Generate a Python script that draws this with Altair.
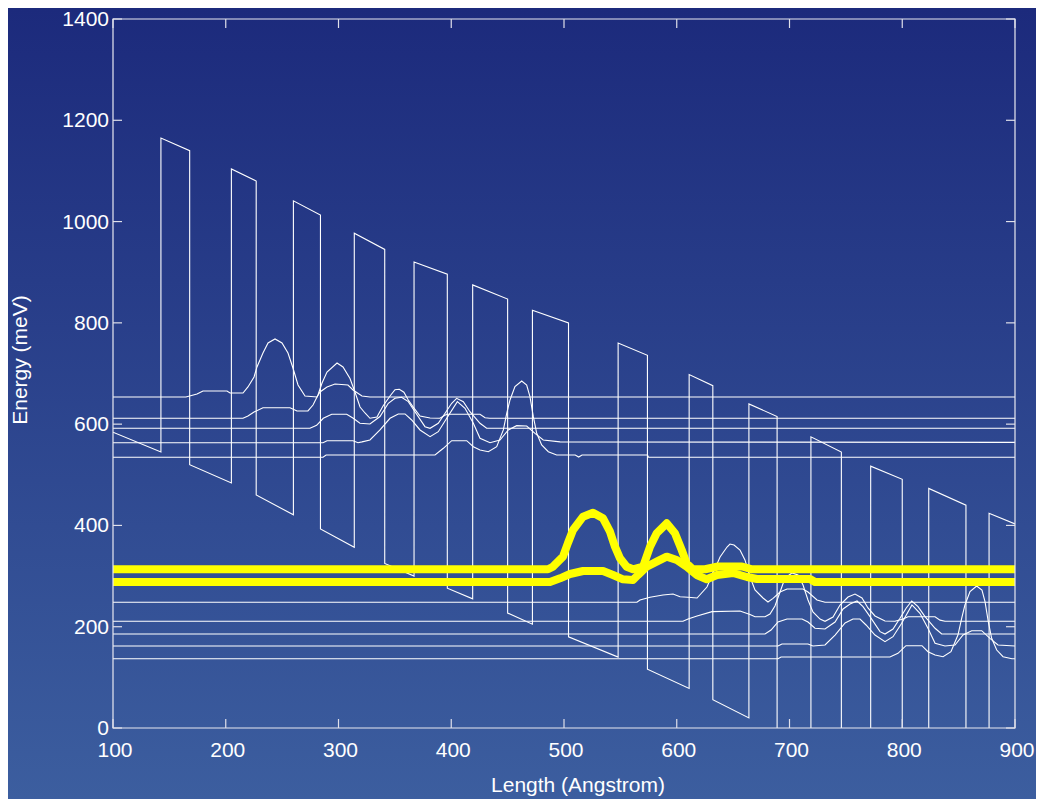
import altair as alt
import pandas as pd

X_TICKS = [100, 200, 300, 400, 500, 600, 700, 800, 900]
Y_TICKS = [0, 200, 400, 600, 800, 1000, 1200, 1400]
X_TITLE = "Length (Angstrom)"
Y_TITLE = "Energy (meV)"

# conduction band profile (Length in Angstrom, Energy in meV)
POTENTIAL = [(100, 584), (142.5, 545), (142.5, 1165), (168, 1140), (168, 520), (205, 484), (205, 1104),
             (227, 1080), (227, 460), (260, 421), (260, 1041), (284, 1013), (284, 393), (314, 357),
             (314, 977), (341, 945), (341, 325), (367, 300), (367, 920), (396.5, 896), (396.5, 276),
             (419, 255), (419, 875), (450, 847), (450, 227), (472, 205), (472, 825), (504, 800),
             (504, 180), (548, 140), (548, 760), (574, 736), (574, 116), (611, 78), (611, 698),
             (632, 676), (632, 56), (664, 20), (664, 640), (689, 615), (689, -5), (719, -45),
             (719, 575), (746, 545), (746, -75), (772, -103), (772, 517), (800, 491), (800, -129),
             (823.5, -147), (823.5, 473), (856.5, 440), (856.5, -180), (877, -196), (877, 424), (900, 403)]

U1 = [(100, 653.6), (164.7, 653.6), (174.5, 659.6), (179.8, 665.5), (201.1, 665.5), (203.8, 661.5),
      (215.3, 661.5), (219.7, 673.4), (225.1, 693.1), (227.7, 712.9), (233, 740.5), (237.5, 760.3),
      (243.7, 768.2), (249.9, 760.3), (255.2, 740.5), (259.6, 710.9), (264.1, 677.3), (270.3, 655.6),
      (280.9, 653.6), (283.6, 663.5), (289.8, 673.4), (296.9, 679.3), (308.4, 677.3), (312.9, 667.5),
      (320.8, 655.6), (327.9, 653.6), (900, 653.6)]
U2 = [(100, 611.6), (215.3, 611.6), (219.7, 616), (225.1, 624), (233, 632.5), (257, 632.5), (263.2, 626),
      (272.9, 626), (277.4, 637.8), (281.8, 657.6), (285.4, 681.3), (289.8, 703), (298.7, 720.8),
      (304, 712.9), (310.2, 690), (314.6, 663.5), (319.1, 633.9), (323.5, 622), (327.9, 611.6),
      (334.1, 614), (339.5, 635.8), (345.7, 655.6), (350.1, 668), (353.9, 669), (358, 663),
      (361.9, 647.7), (366.3, 633.5), (372.3, 616.1), (381.2, 612), (389.9, 611.6), (395.9, 619.5),
      (425.5, 619.5), (430, 612.6), (434, 611.6), (900, 611.6)]
U3 = [(100, 591.8), (274.7, 591.8), (280.6, 597.6), (286.5, 611.6), (294, 619.5), (307.3, 619.5),
      (313.1, 611.6), (319, 601.7), (327.9, 600.3), (336.8, 615), (344.2, 641.2), (350.1, 651), (356, 653),
      (361.9, 644.4), (367.8, 624.6), (376.7, 595), (381.2, 591.8), (388.5, 601.7), (394.5, 621.4),
      (400.4, 641.2), (404.8, 651), (410.7, 644.4), (416.6, 624.6), (425.5, 601.7), (431.4, 591.8),
      (900, 591.8)]
U4 = [(100, 563.4), (286.3, 563.4), (289.8, 567.3), (312.9, 567.3), (317.3, 563.4), (320.8, 565),
      (327.9, 568.7), (336.8, 588.5), (345.7, 611.6), (353, 620.1), (359, 620.1), (364.9, 608.2),
      (372.3, 588.5), (381.2, 575.2), (388.5, 585.1), (396, 611.6), (405.4, 644.4), (412.2, 631.3),
      (419.6, 601.7), (425.5, 572), (434.4, 563.4), (443.2, 568.7), (450.6, 588.5), (458, 597),
      (466.9, 596.4), (474.3, 581.9), (481.6, 568.7), (496.5, 565), (900, 564)]
U5 = [(100, 534.6), (286.3, 534.6), (289, 539.1), (385.6, 539.1), (393, 552.3), (400.4, 567.3),
      (413.7, 567.3), (419.6, 555.5), (425.5, 549), (432.9, 545.6), (440.3, 555.5), (446.2, 588.5),
      (449.2, 621.4), (452.1, 647.7), (456.5, 674), (462.5, 685.2), (466.9, 677.3), (469.8, 654.2),
      (472.8, 614.8), (475.8, 581.9), (480.2, 558.8), (486.1, 545.6), (493.5, 539.1), (510, 539.1),
      (513, 535), (516, 539.1), (574, 539.1), (575, 534.6), (900, 534.6)]

L1 = [(100, 248.2), (564.7, 248.2), (567.4, 252.8), (576.3, 258.1), (587.8, 262.6), (596.7, 264.6),
      (602.9, 259.3), (610, 258.1), (618, 256.7), (626.8, 278.4), (632.2, 306.1), (638.4, 337.7),
      (644.6, 357.4), (647.2, 363.3), (650.8, 361.4), (656.1, 351.5), (660.5, 331.8), (665, 298.2),
      (669.4, 272.5), (676.5, 256.7), (680.9, 248.8), (685.4, 256), (691.6, 268.6), (697.8, 274.5),
      (712, 274.5), (716.4, 268.6), (724.4, 252.8), (731.5, 248.2), (900, 248.2)]
L2 = [(100, 210.7), (605.5, 210.7), (610, 215.2), (618, 221.2), (631.3, 229.7), (656.1, 231), (665, 224.1),
      (669.4, 219.8), (678.3, 219.8), (682.7, 225.1), (687.1, 240.9), (691.6, 268.6), (696, 296.2),
      (702.2, 306.1), (707.5, 302.1), (712, 282.4), (716.4, 252.8), (720.8, 229.1), (727.1, 215.2),
      (731.5, 210.7), (738.6, 219.2), (744.8, 242.9), (751.9, 258.7), (758.1, 264.6), (764.3, 256.7),
      (769.6, 237), (775.8, 221.2), (784.7, 211.3), (793.6, 210.7), (800.7, 215.2), (805.1, 219.8),
      (829.1, 219.8), (833.5, 213), (837.9, 210.7), (900, 210.7)]
L3 = [(100, 185.6), (678.3, 185.6), (683.6, 193.5), (689.8, 209.3), (697.8, 215.2), (711.1, 215.2),
      (716.4, 209.3), (722.6, 196.9), (731.5, 195.5), (740.4, 209.3), (747.5, 235), (753.7, 244.9),
      (759.9, 250.8), (765.2, 239.5), (771.4, 219.8), (780.3, 190.2), (784.7, 185.6), (791.8, 195.5),
      (798, 216.6), (803.4, 236.4), (808.4, 250.8), (814, 239.5), (820.2, 219.8), (829.1, 196.9),
      (835, 185.6), (900, 185.6)]
L4 = [(100, 161.9), (689.8, 161.9), (693.3, 165.9), (716.4, 165.9), (720.8, 161.9), (731.5, 163.9),
      (740.4, 183.6), (749.3, 207.3), (756.3, 215.2), (762.5, 215.2), (767.9, 203.4), (775.8, 183.6),
      (784.7, 170.4), (791.8, 180.3), (799.5, 206.8), (808.6, 242.9), (815.7, 226.5), (822.8, 196.9),
      (829.1, 167.3), (837.9, 161.9), (846.8, 163.9), (853.9, 183.6), (861.6, 192.1), (870.5, 192.1),
      (877.8, 177.1), (884.9, 163.9), (900, 161.9)]
L5 = [(100, 136.8), (689.8, 136.8), (692.5, 140.2), (789.1, 140.2), (796.2, 147.5), (803.3, 162.5),
      (817.5, 162.5), (822.8, 150.7), (829.1, 144.2), (836.2, 140.8), (843.2, 150.7), (849.4, 183.6),
      (852.7, 216.6), (855.6, 242.9), (860.1, 269.2), (866, 280.4), (870.7, 272.5), (873.4, 249.4),
      (876.3, 209.9), (879.3, 177.1), (883.8, 154), (889.4, 140.8), (897.3, 136.8), (900, 136.8)]

Y1 = [(100, 313.4), (485.8, 313.4), (490.2, 318.5), (499.1, 338.3), (503.5, 365.3), (508, 391),
      (516.9, 417.3), (525.7, 425.2), (534.6, 414.1), (540.8, 387.6), (545.2, 358), (549.7, 335.1),
      (555.6, 318.5), (561.2, 313.4), (570.1, 318.5), (576.3, 358), (582.2, 384.5), (591.1, 404.2),
      (598.4, 384.5), (604.4, 351.5), (608.8, 325.2), (614.4, 313.4), (625.1, 313.4), (636.6, 318.9),
      (657.9, 318.9), (666.8, 313.4), (900, 313.4)]
Y2 = [(100, 288.3), (487.6, 288.3), (496.5, 295.6), (505.3, 304.1), (516.9, 310), (534.6, 310),
      (543.5, 302.1), (552.3, 293.6), (561.2, 292.3), (565.6, 302.1), (573.4, 318.5), (582.2, 328.4),
      (591.1, 338.3), (600, 331.8), (608.8, 318.5), (617.7, 302.1), (626.6, 293.6), (635.7, 302.1),
      (649.9, 306.1), (662.3, 298.2), (671.2, 294.2), (718.2, 294.2), (722.6, 288.3), (900, 288.3)]


def table(series):
    rows = []
    for name, pts in series:
        for i, (x, e) in enumerate(pts):
            rows.append({"series": name, "x": x, "E": e, "i": i})
    return pd.DataFrame(rows)


white_df = table([("pot", POTENTIAL), ("U1", U1), ("U2", U2), ("U3", U3), ("U4", U4), ("U5", U5),
                  ("L1", L1), ("L2", L2), ("L3", L3), ("L4", L4), ("L5", L5)])
yellow_df = table([("Y1", Y1), ("Y2", Y2)])

W, H = 902, 709
PAD = {"left": 105, "top": 11, "right": 21, "bottom": 71}
FONT = "Liberation Sans"
FS = 21

xs = alt.Scale(domain=[100, 900], nice=False, zero=False)
ys = alt.Scale(domain=[0, 1400], nice=False, zero=False)

gradient = {
    "gradient": "linear", "x1": 0, "y1": 0, "x2": 0, "y2": 1,
    "stops": [{"offset": 0, "color": "#1c2a7c"}, {"offset": 1, "color": "#3c5e9f"}],
}

one = pd.DataFrame({"a": [0]})
bg = alt.Chart(one).mark_rect(fill=gradient, strokeWidth=0).encode(
    x=alt.value(-PAD["left"]), x2=alt.value(W + PAD["right"]),
    y=alt.value(-PAD["top"]), y2=alt.value(H + PAD["bottom"])
)

white = alt.Chart(white_df).mark_line(color="white", strokeWidth=1.1, clip=True).encode(
    x=alt.X("x:Q", scale=xs, axis=None),
    y=alt.Y("E:Q", scale=ys, axis=None),
    detail="series:N",
    order="i:Q",
)
yellow = alt.Chart(yellow_df).mark_line(color="#ffff00", strokeWidth=8, clip=True,
                                        strokeJoin="round", strokeCap="butt").encode(
    x=alt.X("x:Q", scale=xs, axis=None),
    y=alt.Y("E:Q", scale=ys, axis=None),
    detail="series:N",
    order="i:Q",
)

frame = alt.Chart(one).mark_rect(fillOpacity=0, stroke="#e8e8f0", strokeWidth=1.2).encode(
    x=alt.value(0), x2=alt.value(W), y=alt.value(0), y2=alt.value(H)
)

xt = pd.DataFrame({"v": X_TICKS, "t": [str(v) for v in X_TICKS]})
yt = pd.DataFrame({"v": Y_TICKS, "t": [str(v) for v in Y_TICKS]})
TL = 9
tick_col = "#e0e0ea"
t_bottom = alt.Chart(xt).mark_rule(color=tick_col, strokeWidth=1.2).encode(
    x=alt.X("v:Q", scale=xs, axis=None), y=alt.value(H), y2=alt.value(H - TL))
t_top = alt.Chart(xt).mark_rule(color=tick_col, strokeWidth=1.2).encode(
    x=alt.X("v:Q", scale=xs, axis=None), y=alt.value(0), y2=alt.value(TL))
t_left = alt.Chart(yt).mark_rule(color=tick_col, strokeWidth=1.2).encode(
    y=alt.Y("v:Q", scale=ys, axis=None), x=alt.value(0), x2=alt.value(TL))
t_right = alt.Chart(yt).mark_rule(color=tick_col, strokeWidth=1.2).encode(
    y=alt.Y("v:Q", scale=ys, axis=None), x=alt.value(W), x2=alt.value(W - TL))

x_labels = alt.Chart(xt).mark_text(font=FONT, fontSize=FS, color="white", align="center",
                                   baseline="alphabetic", dx=2).encode(
    x=alt.X("v:Q", scale=xs, axis=None), y=alt.value(H + 29), text="t:N")
y_labels = alt.Chart(yt).mark_text(font=FONT, fontSize=FS, color="white", align="right",
                                   baseline="middle", dy=1).encode(
    y=alt.Y("v:Q", scale=ys, axis=None), x=alt.value(-4), text="t:N")

x_title = alt.Chart(pd.DataFrame({"t": [X_TITLE]})).mark_text(
    font=FONT, fontSize=FS, color="white", align="center", baseline="middle").encode(
    x=alt.value(465), y=alt.value(767), text="t:N")
y_title = alt.Chart(pd.DataFrame({"t": [Y_TITLE]})).mark_text(
    font=FONT, fontSize=FS, color="white", align="center", baseline="middle", angle=270).encode(
    x=alt.value(-92), y=alt.value(341), text="t:N")

chart = alt.layer(bg, white, yellow, frame, t_bottom, t_top, t_left, t_right,
                  x_labels, y_labels, x_title, y_title).properties(
    width=W, height=H,
    autosize=alt.AutoSizeParams(type="none"),
    padding=PAD,
    background="#2c4690",
).configure_view(strokeWidth=0)

chart.save("out.html", embed_options={"renderer": "svg", "actions": False})
